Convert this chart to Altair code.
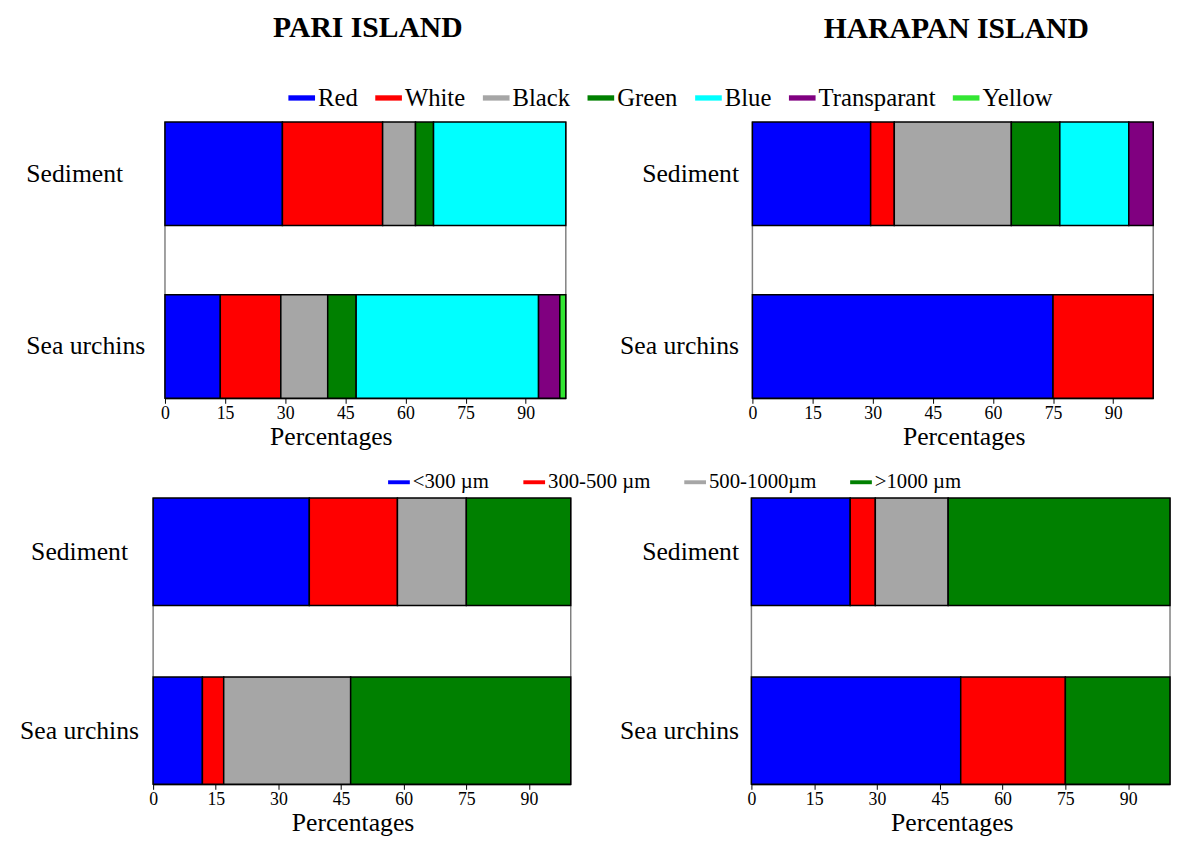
import altair as alt
import pandas as pd

FONT = "Liberation Serif"

# ---- categories and colours ----
colour_cats = ["Red", "White", "Black", "Green", "Blue", "Transparant", "Yellow"]
colour_hex = ["#0000FF", "#FF0000", "#A6A6A6", "#008000", "#00FFFF", "#800080", "#33E633"]
size_cats = ["<300 µm", "300-500 µm", "500-1000µm", ">1000 µm"]
size_hex = ["#0000FF", "#FF0000", "#A6A6A6", "#008000"]
groups = ["Sediment", "Sea urchins"]
x_ticks = [0, 15, 30, 45, 60, 75, 90]

# ---- percentages ----
pari_colour_sediment = [29.3, 25.0, 8.2, 4.5, 33.0, 0, 0]
pari_colour_urchins = [13.8, 15.1, 11.7, 7.1, 45.5, 5.3, 1.5]
harapan_colour_sediment = [29.5, 5.9, 29.2, 12.1, 17.2, 6.1, 0]
harapan_colour_urchins = [75.0, 25.0, 0, 0, 0, 0, 0]
pari_size_sediment = [37.4, 21.1, 16.5, 25.0]
pari_size_urchins = [11.8, 5.1, 30.4, 52.7]
harapan_size_sediment = [23.6, 6.0, 17.4, 53.0]
harapan_size_urchins = [50.0, 25.0, 0, 25.0]


def frame_df(cats, sed, urc):
    rows = []
    for g, vals in zip(groups, [sed, urc]):
        for i, (c, v) in enumerate(zip(cats, vals)):
            if v > 0:
                rows.append({"group": g, "cat": c, "value": v, "idx": i})
    return pd.DataFrame(rows)


def panel(df, cats, hexes, width, height, rng, title, legend, ylab, title_x):
    xaxis = alt.Axis(
        values=x_ticks, grid=False, labelFont=FONT, labelFontSize=18, labelColor="black",
        tickColor="black", tickSize=5, domainColor="black", labelPadding=1,
        title="Percentages", titleFont=FONT, titleFontSize=26, titleFontWeight="normal",
        titleColor="black", titleX=title_x, titleY=47, titleBaseline="alphabetic",
        titleAlign="center", labelOverlap=False, labelFlush=False,
    )
    xscale = alt.Scale(domain=[0, 100], range=rng, nice=False, zero=True)
    yaxis = alt.Axis(
        title=None, domain=False, ticks=False, tickSize=0, labelFont=FONT,
        labelFontSize=26, labelColor="black", **ylab,
    )
    edges = alt.Chart(pd.DataFrame({"edge": [0, 100]})).mark_rule(
        color="#808080", strokeWidth=1.5
    ).encode(x=alt.X("edge:Q", scale=xscale, axis=xaxis))
    bars = alt.Chart(df).mark_bar(stroke="black", strokeWidth=1.5).encode(
        x=alt.X("value:Q", stack="zero", scale=xscale, axis=xaxis),
        y=alt.Y("group:N", sort=groups,
                scale=alt.Scale(paddingInner=0.4, paddingOuter=0), axis=yaxis),
        color=alt.Color("cat:N", scale=alt.Scale(domain=cats, range=hexes),
                        sort=cats, legend=legend),
        order=alt.Order("idx:Q", sort="ascending"),
    )
    props = dict(width=width, height=height)
    if title is not None:
        props["title"] = title
    return alt.layer(edges, bars).properties(**props)


def make_title(text, dx, offset):
    return alt.TitleParams(
        text=text, font=FONT, fontSize=30, fontWeight="bold", color="black",
        anchor="middle", frame="group", baseline="alphabetic", offset=offset, dx=dx,
    )


colour_legend = alt.Legend(
    title=None, orient="none", legendX=137, legendY=-38, direction="horizontal",
    symbolType="M-1,-0.2H1V0.2H-1Z", symbolSize=729, symbolStrokeWidth=0,
    labelFont=FONT, labelFontSize=25, labelColor="black", labelOffset=3,
    columnPadding=17, padding=0,
)
size_legend = alt.Legend(
    title=None, orient="none", legendX=238, legendY=-27, direction="horizontal",
    symbolType="M-1,-0.18H1V0.18H-1Z", symbolSize=484, symbolStrokeWidth=0,
    labelFont=FONT, labelFontSize=21, labelColor="black", labelOffset=3,
    columnPadding=34, padding=0,
)

tl = panel(frame_df(colour_cats, pari_colour_sediment, pari_colour_urchins),
           colour_cats, colour_hex, 423, 280, [12, 418],
           make_title("PARI ISLAND", 6, 18), colour_legend,
           dict(labelAlign="left", labelPadding=129), 180)
tr = panel(frame_df(colour_cats, harapan_colour_sediment, harapan_colour_urchins),
           colour_cats, colour_hex, 424, 280, [1, 407],
           make_title("HARAPAN ISLAND", -4.5, 54), None,
           dict(labelAlign="right", labelPadding=13), 215)
bl = panel(frame_df(size_cats, pari_size_sediment, pari_size_urchins),
           size_cats, size_hex, 423, 290, [0, 423], None, size_legend,
           dict(labelAlign="center", labelPadding=75), 202)
br = panel(frame_df(size_cats, harapan_size_sediment, harapan_size_urchins),
           size_cats, size_hex, 424, 290, [0, 424], None, None,
           dict(labelAlign="right", labelPadding=13), 203)

chart = alt.concat(
    tl, tr, bl, br, columns=2, spacing={"row": 101, "column": 183}, bounds="flush"
).resolve_scale(
    color="independent", x="independent", y="independent"
).properties(
    padding={"left": 11, "top": 0, "right": 0, "bottom": 0},
    background="white",
).configure_view(stroke=None)

chart.save("out.html", embed_options={"renderer": "svg", "actions": False})
